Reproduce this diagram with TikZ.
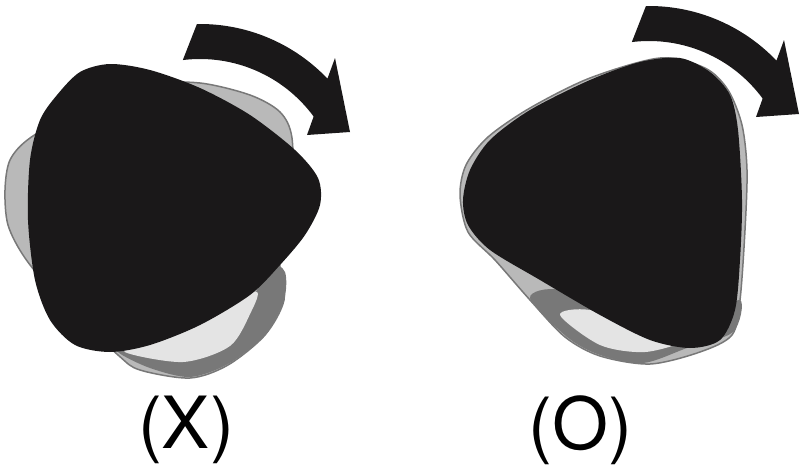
\documentclass[tikz,border=0pt]{standalone}
\usepackage{fontspec}
\setmainfont{TeX Gyre Heros}
\usepackage{xcolor}
\definecolor{blk}{RGB}{26,24,25}
\definecolor{plt}{RGB}{185,185,185}
\definecolor{pltdk}{RGB}{120,120,120}
\definecolor{pltlt}{RGB}{228,228,228}

\begin{document}
\begin{tikzpicture}[x=1pt,y=-1pt,
  cam/.style={fill=blk},
  plate/.style={fill=plt,draw=pltdk,line width=1.5pt},
  band/.style={fill=pltdk},
  shine/.style={fill=pltlt},
  lbl/.style={font=\fontsize{72}{80}\selectfont,inner sep=0pt},
  turnarrow/.pic={
    \fill[blk] (-97:141) arc[start angle=-97,end angle=-36.3,radius=141]
      -- (107,-65) -- (150,-68) -- (135,-142) -- (-43.6:176)
      arc[start angle=-43.6,end angle=-91,radius=176] -- cycle;
  }]
  \useasboundingbox (0,0) rectangle (802,466);

  % ---------- (X) ----------
  \draw[plate] plot[smooth cycle] coordinates {(10,160) (30,138) (80,110) (150,85) (200,83)
    (250,95) (280,112) (292,138) (292,200) (280,262) (284,300) (265,335) (228,365)
    (190,378) (140,370) (118,355) (60,300) (25,258) (8,225) (5,190)};
  \fill[band] plot[smooth cycle] coordinates {(118,352) (150,368) (190,377) (228,364)
    (265,335) (284,300) (285,272) (270,265) (250,300) (200,340) (130,345)};
  \fill[shine] plot[smooth cycle] coordinates {(125,352) (183,362) (230,346) (251,312)
    (257,292) (230,300) (150,340)};
  \fill[cam] plot[smooth cycle] coordinates {(57,95) (80,72) (110,64) (150,70) (200,88)
    (250,115) (295,150) (318,178) (320,205) (305,235) (280,265) (250,295) (200,325)
    (150,345) (110,352) (75,345) (50,320) (35,280) (28,220) (30,160) (40,120)};
  \pic at (200,200) {turnarrow};
  \node[lbl] (labX) at (186,430) {(X)};

  % ---------- (O) ----------
  \draw[plate] plot[smooth cycle] coordinates {(460,195) (466,165) (488,137) (530,108)
    (590,78) (660,58) (705,68) (728,90) (742,125) (747,170) (745,230) (740,300) (732,335)
    (700,352) (650,364) (600,356) (565,337) (530,300) (495,260) (468,232)};
  \fill[band] plot[smooth cycle] coordinates {(530,298) (567,337) (600,355) (643,363)
    (687,348) (733,332) (740,300) (700,320) (620,320) (560,290)};
  \fill[shine] plot[smooth cycle] coordinates {(560,315) (600,345) (645,352) (690,340)
    (700,330) (650,330) (590,310)};
  \fill[cam] plot[smooth cycle] coordinates {(463,200) (470,170) (490,140) (530,110)
    (590,80) (640,62) (680,58) (710,72) (730,95) (738,130) (742,200) (740,260)
    (735,310) (720,340) (690,348) (650,340) (600,315) (540,280) (490,250) (468,225)};
  \pic at (649,182) {turnarrow};
  \node[lbl] (labO) at (580,430) {(O)};
\end{tikzpicture}
\end{document}
